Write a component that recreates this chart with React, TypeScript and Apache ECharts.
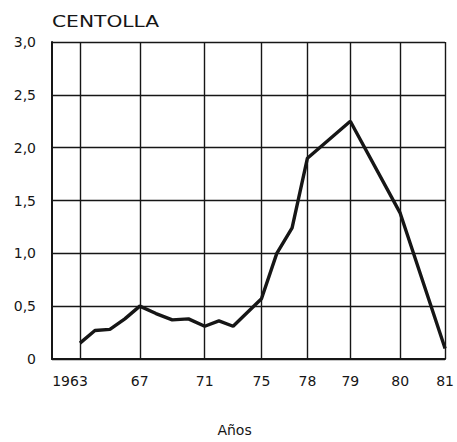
import React, { useEffect, useRef } from "react";
import * as echarts from "echarts";

// Catch of "centolla" by year
const years = [1963, 1964, 1965, 1966, 1967, 1968, 1969, 1970, 1971, 1972, 1973, 1974, 1975, 1976, 1977, 1978, 1979, 1980, 1981];
const catches = [0.15, 0.27, 0.28, 0.38, 0.5, 0.43, 0.37, 0.38, 0.31, 0.36, 0.31, 0.44, 0.57, 1.0, 1.24, 1.9, 2.25, 1.38, 0.1];

// Broken year axis: labelled years and where they sit on the axis scale
const tickYears = [1963, 1967, 1971, 1975, 1978, 1979, 1980, 1981];
const tickLabels = ["1963", "67", "71", "75", "78", "79", "80", "81"];
const tickPositions = [0, 3.93, 8.2, 11.93, 14.95, 17.77, 21.05, 24];

const yMin = 0;
const yMax = 3;
const yStep = 0.5;

function yearToPos(y: number): number {
  for (let i = 0; i < tickYears.length - 1; i++) {
    const a = tickYears[i], b = tickYears[i + 1];
    if (y >= a && y <= b) {
      const t = (y - a) / (b - a);
      return tickPositions[i] + t * (tickPositions[i + 1] - tickPositions[i]);
    }
  }
  return tickPositions[tickPositions.length - 1];
}

const INK = "#161616";
const FONT = "DejaVu Sans";

export default function App() {
  const ref = useRef<HTMLDivElement>(null);
  useEffect(() => {
    if (!ref.current) return;
    const chart = echarts.init(ref.current, null, { renderer: "svg" });
    chart.setOption({
      animation: false,
      backgroundColor: "#ffffff",
      grid: { left: 52, top: 42, right: 11, bottom: 78, containLabel: false },
      graphic: [
        {
          type: "text",
          left: 52,
          top: 14,
          scaleX: 1.35,
          style: { text: "CENTOLLA", fill: INK, font: `15px '${FONT}'` },
        },
      ],
      xAxis: {
        type: "value",
        min: -1.84,
        max: 24,
        name: "Años",
        nameLocation: "middle",
        nameGap: 64,
        nameTextStyle: { color: INK, fontFamily: FONT, fontSize: 14, padding: [0, 28, 0, 0] },
        axisLine: { show: true, onZero: false, lineStyle: { color: INK, width: 2 } },
        axisTick: { show: false, customValues: tickPositions },
        splitLine: { show: true, lineStyle: { color: INK, width: 1.4 } },
        axisLabel: {
          customValues: tickPositions,
          margin: 15,
          color: INK,
          fontFamily: FONT,
          fontSize: 14,
          formatter: (v: number) => {
            let idx = 0;
            let best = Infinity;
            tickPositions.forEach((p, i) => {
              const d = Math.abs(p - v);
              if (d < best) { best = d; idx = i; }
            });
            return idx === 0 ? `{first|${tickLabels[idx]}}` : tickLabels[idx];
          },
          rich: {
            first: { color: INK, fontFamily: FONT, fontSize: 14, padding: [0, 20, 0, 0] },
          },
        },
      },
      yAxis: {
        type: "value",
        min: yMin,
        max: yMax,
        interval: yStep,
        axisLine: { show: true, onZero: false, lineStyle: { color: INK, width: 2 } },
        axisTick: { show: false },
        splitLine: { show: true, lineStyle: { color: INK, width: 1.4 } },
        axisLabel: {
          margin: 16,
          color: INK,
          fontFamily: FONT,
          fontSize: 14,
          formatter: (v: number) => (v === 0 ? "0" : v.toFixed(1).replace(".", ",")),
        },
      },
      series: [
        {
          type: "line",
          data: years.map((y, i) => [yearToPos(y), catches[i]]),
          symbol: "none",
          lineStyle: { color: INK, width: 3.4 },
        },
      ],
    });
    return () => chart.dispose();
  }, []);
  return <div ref={ref} style={{ width: 457, height: 442, position: "absolute", left: 0, top: 0 }} />;
}
